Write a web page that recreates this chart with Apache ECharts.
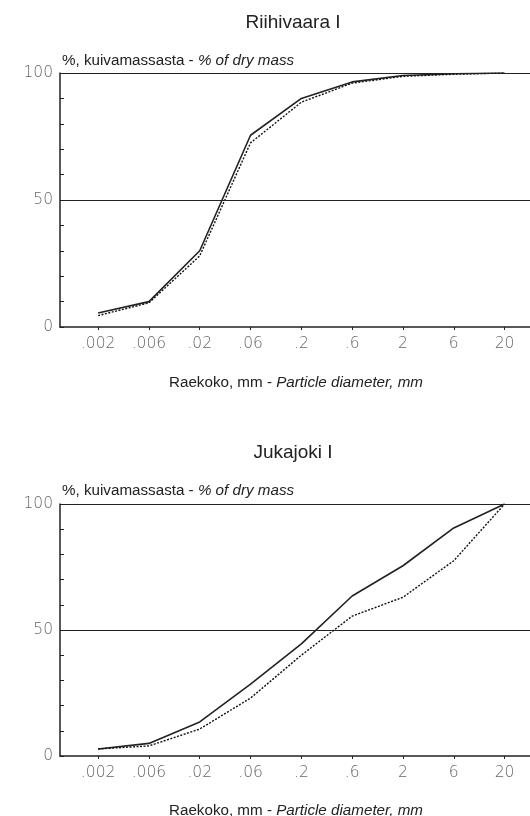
<!DOCTYPE html>
<html>
<head>
<meta charset="utf-8">
<script src="https://cdn.jsdelivr.net/npm/echarts@6/dist/echarts.min.js"></script>
<style>html,body{margin:0;padding:0;background:#fff;}#c{width:530px;height:816px;}</style>
</head>
<body>
<div id="c"></div>
<script>
const categories = ['.002', '.006', '.02', '.06', '.2', '.6', '2', '6', '20'];
const yTickLabels = [0, 50, 100];
const titles = ['Riihivaara I', 'Jukajoki I'];
const riihiSolid  = [5.5, 10, 30, 75.5, 90, 96.5, 99, 99.7, 100];
const riihiDashed = [4.5, 9.5, 28, 72.5, 88.5, 96, 98.7, 99.5, 100];
const jukaSolid   = [2.8, 5, 13.5, 28.5, 44.5, 63.5, 75.5, 90.5, 100];
const jukaDashed  = [2.8, 4, 10.7, 23, 40, 55.5, 63, 77.5, 100];

const chart = echarts.init(document.getElementById('c'), null, {renderer: 'canvas'});
const ink = '#222';
const grey = '#666';
const labelFont = {fontFamily: 'DejaVu Sans', fontWeight: 200, fontSize: 15.5, color: grey};
const idx = categories.map((_, i) => i);
const pts = arr => arr.map((v, i) => [i, v]);

const grids = [
  {left: 60, top: 73, width: 470, height: 254},
  {left: 60, top: 504, width: 470, height: 252}
];

function xAxis(gi) {
  return {
    type: 'value', gridIndex: gi, min: -0.75, max: 8.5,
    axisLine: {show: true, onZero: false, lineStyle: {color: ink, width: 1.5}},
    axisTick: {show: true, customValues: idx, length: 3, lineStyle: {color: ink}},
    axisLabel: Object.assign({customValues: idx, margin: 9, formatter: v => categories[Math.round(v)]}, labelFont),
    splitLine: {show: false}
  };
}
function yAxis(gi) {
  return {
    type: 'value', gridIndex: gi, min: 0, max: 100, interval: 10,
    axisLine: {show: true, onZero: false, lineStyle: {color: ink, width: 1.5}},
    axisTick: {show: true, inside: true, length: 4, lineStyle: {color: ink}},
    axisLabel: Object.assign({customValues: yTickLabels, margin: 7}, labelFont),
    splitLine: {show: false}
  };
}
function refLines() {
  return {
    silent: true, symbol: 'none', label: {show: false},
    lineStyle: {color: ink, type: 'solid', width: 1.2},
    data: [{yAxis: 50}, {yAxis: 100}]
  };
}
function series(gi, solid, dashed) {
  return [
    {type: 'line', xAxisIndex: gi, yAxisIndex: gi, data: pts(solid), symbol: 'none',
     lineStyle: {color: ink, width: 1.6}, markLine: refLines(), z: 3},
    {type: 'line', xAxisIndex: gi, yAxisIndex: gi, data: pts(dashed), symbol: 'none',
     lineStyle: {color: '#111', width: 1.4, type: [2, 1.5]}, z: 3}
  ];
}
const nameRich = {
  n: {fontFamily: 'Liberation Sans', fontSize: 15.2, fontWeight: 'normal', color: ink},
  i: {fontFamily: 'Liberation Sans', fontSize: 15.2, fontWeight: 'normal', color: ink, fontStyle: 'italic'}
};
function texts(gi, topTitle, topY, topX) {
  return [
    {text: titles[gi], left: 288, top: topTitle, textAlign: 'center',
     textStyle: {fontFamily: 'Liberation Sans', fontSize: 19, fontWeight: 'normal', color: ink}},
    {text: '{n|%, kuivamassasta - }{i|% of dry mass}', left: 57, top: topY,
     textStyle: {fontWeight: 'normal', rich: nameRich}},
    {text: '{n|Raekoko, mm - }{i|Particle diameter, mm}', left: 291, top: topX, textAlign: 'center',
     textStyle: {fontWeight: 'normal', rich: nameRich}}
  ];
}

chart.setOption({
  animation: false,
  backgroundColor: '#fff',
  title: texts(0, 8, 48, 370).concat(texts(1, 438, 478, 798)),
  grid: grids,
  xAxis: [xAxis(0), xAxis(1)],
  yAxis: [yAxis(0), yAxis(1)],
  series: series(0, riihiSolid, riihiDashed).concat(series(1, jukaSolid, jukaDashed))
});
</script>
</body>
</html>
